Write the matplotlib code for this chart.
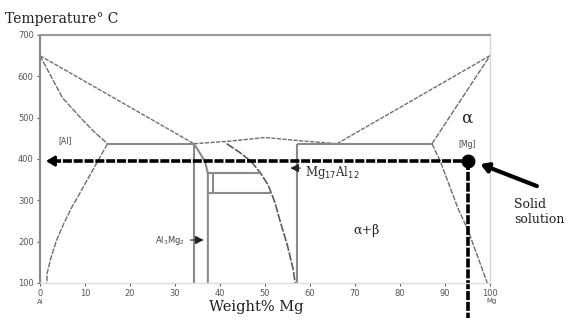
import matplotlib
matplotlib.use("Agg")
import matplotlib.pyplot as plt

# ---- data (wt% Mg, temperature in deg C) ----
liq_al_x = [0, 34.2]
liq_al_t = [650, 437]
liq_mid_x = [34.2, 42, 50, 58, 66]
liq_mid_t = [437, 443, 452, 444, 437]
liq_mg_x = [66, 100]
liq_mg_t = [437, 650]

sol_al_x = [0, 5, 9, 12, 15]
sol_al_t = [650, 548, 500, 466, 437]
solv_al_x = [15, 13.1, 11.1, 9, 7.1, 5.3, 3.7, 2.4, 1.6, 1.5]
solv_al_t = [437, 400, 361, 320, 284, 244, 204, 160, 124, 100]

eut_left_x = [15, 34.2]
eut_right_x = [57.1, 87.1]
eut_t = [437, 437]

v_left_x = [34.2, 34.2]
v_left_t = [437, 100]
beta_l_x = [34.2, 35.5, 36.7, 37.3, 37.3]
beta_l_t = [437, 415, 393, 365, 100]
beta_r_x = [41.5, 44.5, 47, 49, 50.7, 52.2, 53.3, 55, 56.3, 56.7]
beta_r_t = [437, 415, 393, 366, 337, 295, 252, 190, 131, 100]
v_right_x = [57.1, 57.1]
v_right_t = [437, 100]

box_top_x = [37.3, 48.9]
box_top_t = [366, 366]
box_bot_x = [37.3, 51.4]
box_bot_t = [318, 318]
box_v_x = [38.5, 38.5]
box_v_t = [366, 318]

sol_mg_x = [87.1, 100]
sol_mg_t = [437, 650]
solv_mg_x = [87.1, 88.9, 92.9, 95.1, 99.4]
solv_mg_t = [437, 396, 280, 228, 100]

point_x = 95
point_t = 395
arrow_end_x = 0.7
vline_bottom_t = 15

x_ticks = [0, 10, 20, 30, 40, 50, 60, 70, 80, 90, 100]
y_ticks = [100, 200, 300, 400, 500, 600, 700]

# ---- figure ----
fig = plt.figure(figsize=(5.73, 3.2), dpi=100)
ax = fig.add_axes([40/573, 37/320, 450/573, 248/320])
ax.set_xlim(0, 100)
ax.set_ylim(100, 700)

gray = "#8a8a8a"
dgray = "#6e6e6e"

# liquidus (dashed)
for xs, ts in [(liq_al_x, liq_al_t), (liq_mid_x, liq_mid_t), (liq_mg_x, liq_mg_t)]:
    ax.plot(xs, ts, color=dgray, lw=1.0, ls=(0, (3, 1)))
# solidus / solvus curves
for xs, ts in [(sol_al_x, sol_al_t), (solv_al_x, solv_al_t),
               (sol_mg_x, sol_mg_t), (solv_mg_x, solv_mg_t)]:
    ax.plot(xs, ts, color=dgray, lw=1.0, ls=(0, (4, 1)))
ax.plot(beta_r_x, beta_r_t, color="#5a5a5a", lw=1.2, ls=(0, (5, 1)))
# solid gray lines
for xs, ts in [(eut_left_x, eut_t), (eut_right_x, eut_t), (v_left_x, v_left_t),
               (beta_l_x, beta_l_t), (v_right_x, v_right_t), (box_top_x, box_top_t),
               (box_bot_x, box_bot_t), (box_v_x, box_v_t)]:
    ax.plot(xs, ts, color=gray, lw=1.5, solid_capstyle="butt")

# black arrow lines
ax.plot([arrow_end_x + 2, point_x], [point_t, point_t], color="black", lw=2.6,
        ls=(0, (2.5, 0.5)))
ax.annotate("", xy=(arrow_end_x, point_t), xytext=(arrow_end_x + 3, point_t),
            arrowprops=dict(arrowstyle="-|>,head_length=0.5,head_width=0.3",
                            color="black", lw=2))
ax.plot([point_x, point_x], [point_t, vline_bottom_t], color="black", lw=2.6,
        ls=(0, (2.5, 0.5)), clip_on=False)
ax.plot([point_x], [point_t], "o", color="black", ms=9, clip_on=False, zorder=5)
ax.annotate("", xy=(97.3, 390), xytext=(111, 332), annotation_clip=False,
            arrowprops=dict(arrowstyle="-|>,head_length=0.45,head_width=0.28",
                            color="black", lw=3))

# labels
serif = "DejaVu Serif"
ax.text(5.5, 445, "[Al]", fontsize=5.5, color="#444444", ha="center", va="center")
ax.text(94.9, 434, "[Mg]", fontsize=5.5, color="#444444", ha="center", va="center")
ax.text(94.9, 500, "α", fontsize=12, family=serif, color="#222222", ha="center", va="center")
ax.text(72.5, 228, "α+β", fontsize=9, family=serif, color="#222222", ha="center", va="center")
ax.text(32.3, 204, "Al$_3$Mg$_2$", fontsize=6, color="#444444", ha="right", va="center")
ax.annotate("", xy=(37.0, 204), xytext=(32.8, 204),
            arrowprops=dict(arrowstyle="-|>,head_length=0.5,head_width=0.25",
                            color="#222222", lw=0.8))
ax.text(58.8, 368, "Mg$_{17}$Al$_{12}$", fontsize=8.5, family=serif, color="#2a2a2a",
        ha="left", va="center")
ax.annotate("", xy=(55.0, 378), xytext=(58.5, 378),
            arrowprops=dict(arrowstyle="-|>,head_length=0.5,head_width=0.25",
                            color="#222222", lw=0.8))
fig.text(514/573, 1 - 212/320, "Solid\nsolution", fontsize=9, family=serif,
         color="#222222", ha="left", va="center", linespacing=1.2)

fig.text(5/573, 1 - 19/320, "Temperature° C", fontsize=10, family=serif,
         color="#1e1e1e", ha="left", va="center")
fig.text(256/573, 1 - 307/320, "Weight% Mg", fontsize=10.5, family=serif,
         color="#1e1e1e", ha="center", va="center")
fig.text(40/573, 1 - 302/320, "Al", fontsize=5, color="#555555", ha="center", va="center")
fig.text(492/573, 1 - 301/320, "Mg", fontsize=5, color="#555555", ha="center", va="center")

# axes styling
ax.set_xticks(x_ticks)
ax.set_yticks(y_ticks)
ax.set_xticklabels([str(v) for v in x_ticks])
ax.set_yticklabels([str(v) for v in y_ticks])
ax.tick_params(axis="both", labelsize=6, colors="#555555", length=2.5, width=0.8,
               direction="out", pad=2)
ax.tick_params(axis="x", length=2)
for side, c, w in [("left", "#888888", 1.5), ("top", "#9a9a9a", 1.5),
                   ("right", "#d8d8d8", 1.0), ("bottom", "#dddddd", 1.0)]:
    ax.spines[side].set_color(c)
    ax.spines[side].set_linewidth(w)

fig.savefig("out.png", dpi=100)
